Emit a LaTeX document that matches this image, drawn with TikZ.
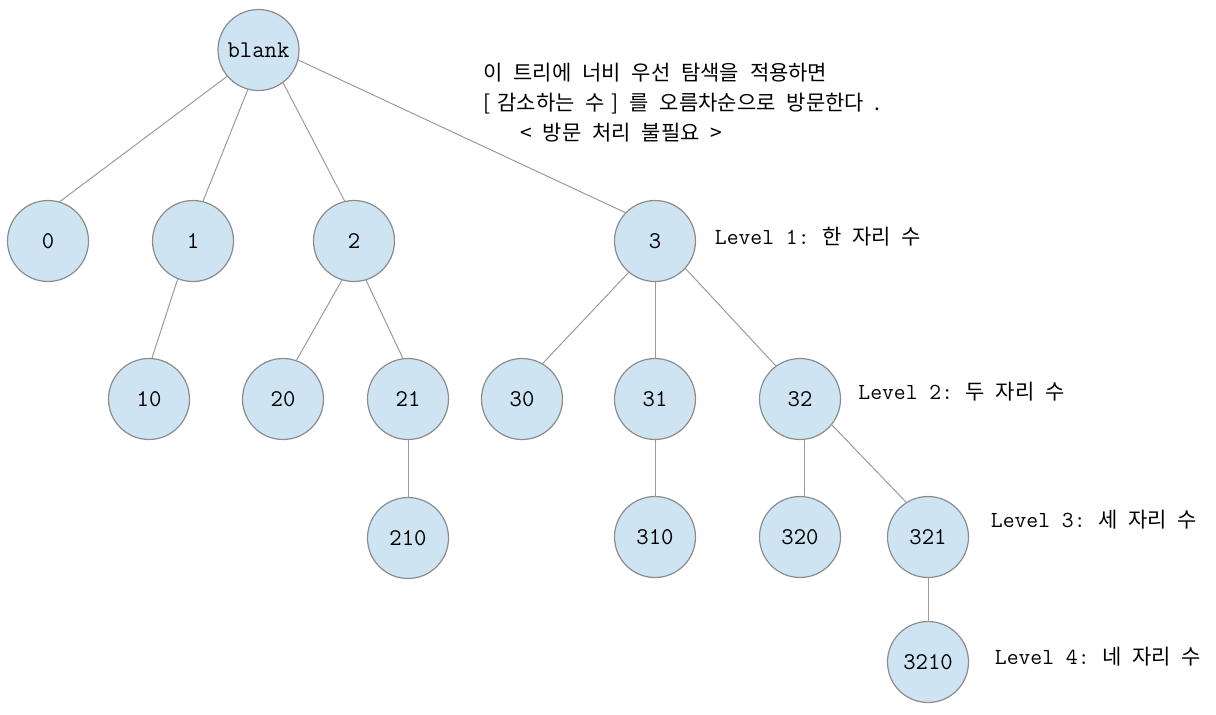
\documentclass[tikz,border=0pt]{standalone}
\usepackage{fontspec}
\newfontfamily\kr[WordSpace=2.3]{Noto Sans CJK KR}
\usepackage{tikz}
\usetikzlibrary{positioning}
\definecolor{nodeblue}{RGB}{207,228,243}
\definecolor{nodegray}{RGB}{140,140,140}
\definecolor{linkgray}{RGB}{155,155,155}
\tikzstyle{link} = [draw=linkgray, line width=0.5pt]
\tikzstyle{vertex} = [
    circle, minimum size=40.5pt, inner sep=0pt, outer sep=0pt, draw=nodegray, line width=0.6pt,
    fill=nodeblue, font=\ttfamily\fontsize{12}{14}\selectfont]
\tikzstyle{level} = [
    inner sep=0pt, anchor=west, font=\kr\fontsize{10.5}{13}\selectfont]
\tikzstyle{note} = [
    inner sep=0pt, align=left, font=\kr\fontsize{10.5}{15}\selectfont]
\newcommand{\levtag}[1]{{\ttfamily\fontsize{11.5}{13}\selectfont Level #1:}}
\begin{document}
\begin{tikzpicture}
\useasboundingbox (0,0) rectangle (608pt,-357pt);

\node (n0) [vertex] at (24pt,-120.5pt) {0};
\node (n1) [vertex, right=32pt of n0] {1};
\node (n2) [vertex, right=40pt of n1] {2};
\node (n3) [vertex, right=110pt of n2] {3};
\node (blank) [vertex, above=55pt of n1, xshift=32.75pt] {blank};

\node (n10) [vertex, below=38.5pt of n1, xshift=-22pt] {10};
\node (n20) [vertex, right=26.5pt of n10] {20};
\node (n21) [vertex, right=22pt of n20] {21};
\node (n30) [vertex, right=16.5pt of n21] {30};
\node (n31) [vertex, below=38.5pt of n3] {31};
\node (n32) [vertex, right=32pt of n31] {32};

\node (n210) [vertex, below=29pt of n21] {210};
\node (n310) [vertex, below=28.5pt of n31] {310};
\node (n320) [vertex, below=28.5pt of n32] {320};
\node (n321) [vertex, right=23.5pt of n320] {321};
\node (n3210) [vertex, below=22pt of n321] {3210};

\node (lev1) [level, right=9.5pt of n3, yshift=2pt] {\levtag{1} 한 자리 수};
\node (lev2) [level, right=8.75pt of n32, yshift=3.5pt] {\levtag{2} 두 자리 수};
\node (lev3) [level, right=11pt of n321, yshift=8.5pt] {\levtag{3} 세 자리 수};
\node (lev4) [level, right=13pt of n3210, yshift=2.5pt] {\levtag{4} 네 자리 수};

\node (bfs-note) [note, right=92pt of blank, yshift=-26.5pt] {
    이 트리에 너비 우선 탐색을 적용하면 \\
    {[}\hspace{3.5pt}감소하는 수\hspace{3.5pt}{]} 를 오름차순으로 방문한다 . \\
    \hspace*{18.5pt}< 방문 처리 불필요 >
};

\draw [link] (blank.220) -- (n0.74);
\draw [link] (blank.255) -- (n1.76);
\draw [link] (blank.307) -- (n2.103);
\draw [link] (blank.346) -- (n3.136);
\draw [link] (n1.248) -- (n10.86);
\draw [link] (n2.253) -- (n20.71);
\draw [link] (n2.287) -- (n21.97);
\draw [link] (n21) -- (n210);
\draw [link] (n3.230) -- (n30.60);
\draw [link] (n3) -- (n31);
\draw [link] (n3.318) -- (n32.126);
\draw [link] (n31) -- (n310);
\draw [link] (n32.276) -- (n320.84);
\draw [link] (n32.321) -- (n321.122);
\draw [link] (n321) -- (n3210);
\end{tikzpicture}
\end{document}
